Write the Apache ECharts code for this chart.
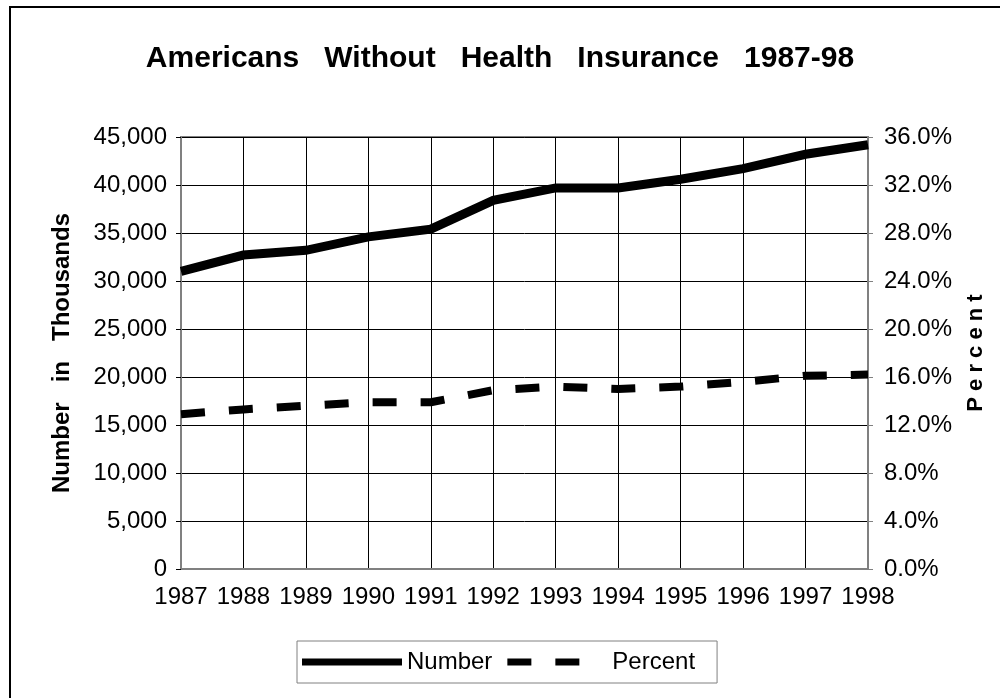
<!DOCTYPE html>
<html>
<head>
<meta charset="utf-8">
<script src="https://cdn.jsdelivr.net/npm/echarts@6/dist/echarts.min.js"></script>
<style>
html,body{margin:0;padding:0;background:#fff;overflow:hidden;}
#chart{width:1000px;height:698px;}
#frame{position:absolute;left:9px;top:6px;width:1200px;height:900px;border-left:2px solid #000;border-top:2px solid #000;pointer-events:none;}
</style>
</head>
<body>
<div id="chart"></div>
<div id="frame"></div>
<script>
const titleText = 'Americans   Without   Health   Insurance   1987-98';
const years = ['1987','1988','1989','1990','1991','1992','1993','1994','1995','1996','1997','1998'];
const numberThousands = [31000, 32700, 33200, 34600, 35400, 38400, 39700, 39700, 40600, 41700, 43200, 44200];
const percentUninsured = [12.9, 13.3, 13.6, 13.9, 13.9, 14.9, 15.2, 15.0, 15.2, 15.6, 16.1, 16.2];
const leftAxisName = 'Number   in   Thousands';
const rightAxisName = 'P e r c e n t';
const seriesNames = ['Number', 'Percent'];

const FONT = '"Liberation Sans", Arial, sans-serif';
const chart = echarts.init(document.getElementById('chart'));
chart.setOption({
  animation: false,
  backgroundColor: '#fff',
  textStyle: { fontFamily: FONT, color: '#000' },
  title: {
    text: titleText,
    left: 'center',
    top: 39,
    textStyle: { fontFamily: FONT, fontSize: 30, fontWeight: 'bold', color: '#000' }
  },
  grid: {
    left: 181, right: 132, top: 137, bottom: 129,
    show: true, borderColor: '#808080', borderWidth: 2, backgroundColor: 'transparent'
  },
  legend: {
    left: 297, top: 641,
    padding: [9, 22, 9, 5],
    borderColor: '#808080', borderWidth: 1,
    itemWidth: 100, itemHeight: 7, itemGap: 15,
    textStyle: { fontFamily: FONT, fontSize: 24, color: '#000' },
    data: [
      { name: seriesNames[0], icon: 'path://M0,0 L100,0 L100,7 L0,7 Z', itemStyle: { color: '#000' } },
      { name: seriesNames[1], icon: 'path://M0,0 L24,0 L24,7 L0,7 Z M48,0 L72,0 L72,7 L48,7 Z M100,0 L100,0 Z', itemStyle: { color: '#000' } }
    ]
  },
  xAxis: {
    type: 'category',
    data: years,
    boundaryGap: false,
    axisLine: { lineStyle: { color: '#808080', width: 2 } },
    axisTick: { show: false, interval: 0 },
    axisLabel: { fontFamily: FONT, fontSize: 24, color: '#000', margin: 16, interval: 0, hideOverlap: false },
    splitLine: { show: true, interval: 0, lineStyle: { color: '#000', width: 1 } }
  },
  yAxis: [
    {
      type: 'value', min: 0, max: 45000, interval: 5000,
      name: leftAxisName, nameLocation: 'middle', nameGap: 107, nameRotate: 90,
      nameTextStyle: { fontFamily: FONT, fontSize: 24, fontWeight: 'bold', color: '#000' },
      axisLine: { show: true, lineStyle: { color: '#808080', width: 2 } },
      axisTick: { show: true, length: 5, lineStyle: { color: '#000' } },
      axisLabel: { fontFamily: FONT, fontSize: 24, color: '#000', margin: 14,
        formatter: v => v.toLocaleString('en-US') },
      splitLine: { show: true, lineStyle: { color: '#000', width: 1 } }
    },
    {
      type: 'value', min: 0, max: 36, interval: 4, position: 'right',
      name: rightAxisName, nameLocation: 'middle', nameGap: 97, nameRotate: 90,
      nameTextStyle: { fontFamily: FONT, fontSize: 22, fontWeight: 'bold', color: '#000' },
      axisLine: { show: true, lineStyle: { color: '#808080', width: 2 } },
      axisTick: { show: true, length: 5, lineStyle: { color: '#808080' } },
      axisLabel: { fontFamily: FONT, fontSize: 24, color: '#000', margin: 16,
        formatter: v => v.toFixed(1) + '%' },
      splitLine: { show: false }
    }
  ],
  series: [
    {
      name: seriesNames[0], type: 'line', data: numberThousands, yAxisIndex: 0,
      symbol: 'none', lineStyle: { color: '#000', width: 9, cap: 'butt', join: 'miter' },
      itemStyle: { color: '#000' }
    },
    {
      name: seriesNames[1], type: 'line', data: percentUninsured, yAxisIndex: 1,
      symbol: 'none', lineStyle: { color: '#000', width: 8, type: [24, 24], cap: 'butt' },
      itemStyle: { color: '#000' }
    }
  ]
});
</script>
</body>
</html>
